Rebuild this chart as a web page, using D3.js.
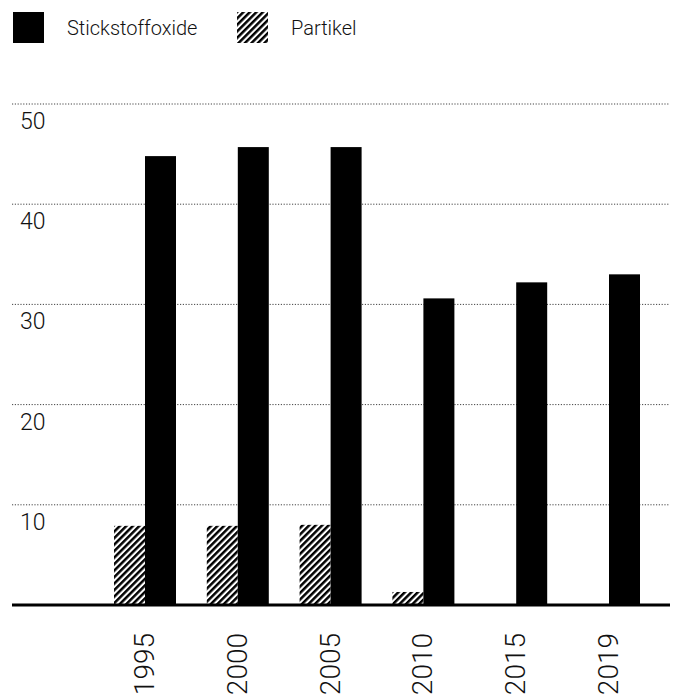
<!DOCTYPE html>
<html lang="de">
<head>
<meta charset="utf-8">
<script src="https://cdn.jsdelivr.net/npm/d3@7"></script>
<style>
  body { margin: 0; background: #fff; }
  text { font-family: "Roboto", "Liberation Sans", sans-serif; font-weight: 300; fill: #111; }
</style>
</head>
<body>
<div id="chart"></div>
<script>
// data
var years = ["1995", "2000", "2005", "2010", "2015", "2019"];
var stickstoff = [44.8, 45.7, 45.7, 30.6, 32.2, 33.0];
var partikel = [7.9, 7.9, 8.0, 1.3, 0, 0];
var yTicks = [10, 20, 30, 40, 50];
var seriesNames = ["Stickstoffoxide", "Partikel"];

var w = 681, h = 697;
var barW = 31;

var svg = d3.select("#chart").append("svg")
  .attr("width", w).attr("height", h);

// hatch pattern
var hs = 4.6;
var pat = svg.append("defs").append("pattern")
  .attr("id", "hatch")
  .attr("patternUnits", "userSpaceOnUse")
  .attr("width", hs).attr("height", hs)
  .attr("patternTransform", "rotate(45)");
pat.append("rect").attr("width", hs).attr("height", hs).attr("fill", "#fff");
pat.append("line")
  .attr("x1", 1.25).attr("y1", 0).attr("x2", 1.25).attr("y2", hs)
  .attr("stroke", "#000").attr("stroke-width", 2.5);

var x = d3.scalePoint().domain(years).range([145, 609]);
var y = d3.scaleLinear().domain([0, 50]).range([605, 104]);

// gridlines
svg.selectAll(".grid").data(yTicks).enter().append("line")
  .attr("x1", 12).attr("x2", 670)
  .attr("y1", function(d){ return y(d); })
  .attr("y2", function(d){ return y(d); })
  .attr("stroke", "#444").attr("stroke-width", 1)
  .attr("stroke-dasharray", "1.2,1.6");

// y labels
svg.selectAll(".ylab").data(yTicks).enter().append("text")
  .attr("x", 20).attr("y", function(d){ return y(d) + 25; })
  .attr("font-size", 23)
  .text(function(d){ return d; });

// bars
svg.selectAll(".bar-p").data(years).enter().append("rect")
  .attr("x", function(d){ return x(d) - barW; })
  .attr("y", function(d, i){ return y(partikel[i]); })
  .attr("width", barW)
  .attr("height", function(d, i){ return y(0) - y(partikel[i]); })
  .attr("fill", "url(#hatch)");

svg.selectAll(".bar-s").data(years).enter().append("rect")
  .attr("x", function(d){ return x(d); })
  .attr("y", function(d, i){ return y(stickstoff[i]); })
  .attr("width", barW)
  .attr("height", function(d, i){ return y(0) - y(stickstoff[i]); })
  .attr("fill", "#000");

// baseline
svg.append("line")
  .attr("x1", 12).attr("x2", 670)
  .attr("y1", y(0)).attr("y2", y(0))
  .attr("stroke", "#000").attr("stroke-width", 3);

// x labels
svg.selectAll(".xlab").data(years).enter().append("text")
  .attr("transform", function(d){ return "translate(" + (x(d) + 9) + ",633) rotate(-90)"; })
  .attr("text-anchor", "end")
  .attr("font-size", 28)
  .text(function(d){ return d; });

// legend
var leg = [{x: 13, fill: "#000"}, {x: 237, fill: "url(#hatch)"}];
leg.forEach(function(l, i){
  svg.append("rect").attr("x", l.x).attr("y", 12)
    .attr("width", 31).attr("height", 31).attr("fill", l.fill);
  svg.append("text").attr("x", l.x + 54).attr("y", 35)
    .attr("font-size", 20)
    .text(seriesNames[i]);
});
</script>
</body>
</html>
